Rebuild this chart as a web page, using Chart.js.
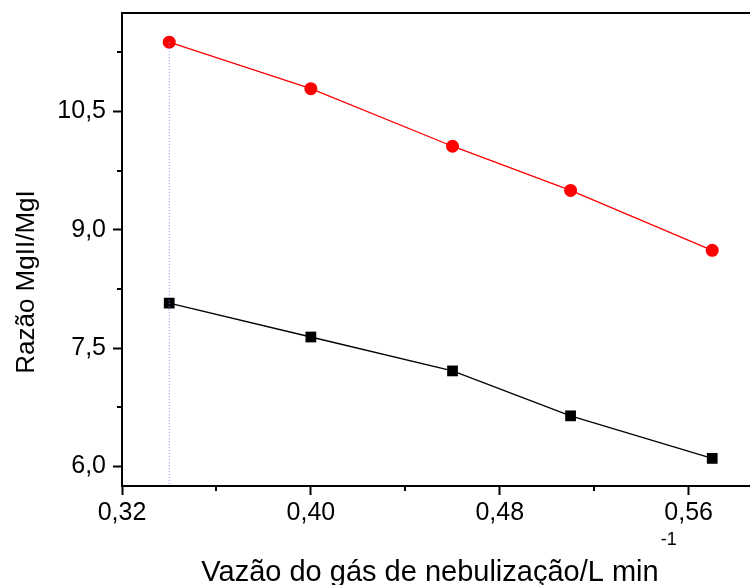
<!DOCTYPE html>
<html>
<head>
<meta charset="utf-8">
<script src="https://cdn.jsdelivr.net/npm/chart.js@4"></script>
<style>
  html, body { margin: 0; padding: 0; background: #fff; overflow: hidden; }
  #wrap { width: 750px; height: 585px; }
  canvas { display: block; }
</style>
</head>
<body>
<div id="wrap"><canvas id="chart" width="750" height="585"></canvas></div>
<script>
// data
var vazao = [0.34, 0.40, 0.46, 0.51, 0.57];
var razaoVermelho = [11.38, 10.79, 10.06, 9.50, 8.74];
var razaoPreto = [8.07, 7.64, 7.21, 6.64, 6.10];
var xTicks = [0.32, 0.40, 0.48, 0.56];
var xMinor = [0.36, 0.44, 0.52];
var yTicks = [6.0, 7.5, 9.0, 10.5];
var yMinor = [6.75, 8.25, 9.75, 11.25];

var FONT = "'Liberation Sans', Arial, sans-serif";

function pts(xs, ys) {
  var out = [];
  for (var i in xs) out.push({ x: xs[i], y: ys[i] });
  return out;
}

var extras = {
  id: 'extras',
  afterDraw: function(chart) {
    var ctx = chart.ctx;
    var a = chart.chartArea;
    var xs = chart.scales.x, ys = chart.scales.y;
    ctx.save();
    ctx.strokeStyle = '#000';
    ctx.lineWidth = 2;
    // top frame line
    ctx.beginPath();
    ctx.moveTo(a.left - 1, a.top);
    ctx.lineTo(chart.width, a.top);
    ctx.stroke();
    // minor ticks
    ctx.beginPath();
    xMinor.forEach(function(v) {
      var p = Math.round(xs.getPixelForValue(v));
      ctx.moveTo(p, a.bottom);
      ctx.lineTo(p, a.bottom + 5);
    });
    yMinor.forEach(function(v) {
      var p = Math.round(ys.getPixelForValue(v));
      ctx.moveTo(a.left, p);
      ctx.lineTo(a.left - 5, p);
    });
    ctx.stroke();
    // axis titles
    ctx.fillStyle = '#000';
    ctx.font = '29px ' + FONT;
    var main = 'Vazão do gás de nebulização/L min';
    var w = ctx.measureText(main).width;
    var cx = 430;
    ctx.textAlign = 'left';
    ctx.textBaseline = 'alphabetic';
    ctx.fillText(main, cx - w / 2, 581);
    ctx.font = '18px ' + FONT;
    ctx.fillText('-1', cx + w / 2 + 2, 545);
    ctx.font = '26px ' + FONT;
    ctx.translate(34, 282);
    ctx.rotate(-Math.PI / 2);
    ctx.textAlign = 'center';
    ctx.textBaseline = 'alphabetic';
    ctx.fillText('Razão MgII/MgI', 0, 0);
    ctx.restore();
  }
};

new Chart(document.getElementById('chart'), {
  type: 'line',
  data: {
    datasets: [
      {
        data: pts([vazao[0], vazao[0]], [razaoVermelho[0], 5.75]),
        borderColor: '#8a8aff',
        borderWidth: 1,
        borderDash: [1, 2],
        pointRadius: 0
      },
      {
        data: pts(vazao, razaoVermelho),
        borderColor: '#ff0000',
        backgroundColor: '#ff0000',
        borderWidth: 1.3,
        pointStyle: 'circle',
        pointRadius: 6.5,
        pointBorderWidth: 0
      },
      {
        data: pts(vazao, razaoPreto),
        borderColor: '#000000',
        backgroundColor: '#000000',
        borderWidth: 1.3,
        pointStyle: 'rect',
        pointRadius: 7.6,
        pointBorderWidth: 0
      }
    ]
  },
  options: {
    responsive: false,
    animation: false,
    layout: { autoPadding: false, padding: { top: 13, right: 0, left: 0, bottom: 0 } },
    plugins: { legend: { display: false }, tooltip: { enabled: false } },
    scales: {
      x: {
        type: 'linear',
        min: 0.32,
        max: 0.586,
        afterFit: function(s) { s.height = 99; s.paddingLeft = 0; s.paddingRight = 0; },
        afterBuildTicks: function(s) { s.ticks = xTicks.map(function(v) { return { value: v }; }); },
        grid: { drawOnChartArea: false, drawTicks: true, tickLength: 9, tickColor: '#000', tickWidth: 2 },
        border: { display: true, color: '#000', width: 2 },
        ticks: {
          color: '#000',
          font: { family: FONT, size: 25 },
          padding: 3,
          maxRotation: 0,
          callback: function(v) { return v.toFixed(2).replace('.', ','); }
        }
      },
      y: {
        min: 5.75,
        max: 11.75,
        afterFit: function(s) { s.width = 122; s.paddingTop = 0; s.paddingBottom = 0; },
        afterBuildTicks: function(s) { s.ticks = yTicks.map(function(v) { return { value: v }; }); },
        grid: { drawOnChartArea: false, drawTicks: true, tickLength: 9, tickColor: '#000', tickWidth: 2 },
        border: { display: true, color: '#000', width: 2 },
        ticks: {
          color: '#000',
          font: { family: FONT, size: 25 },
          padding: 7,
          callback: function(v) { return v.toFixed(1).replace('.', ','); }
        }
      }
    }
  },
  plugins: [extras]
});
</script>
</body>
</html>
